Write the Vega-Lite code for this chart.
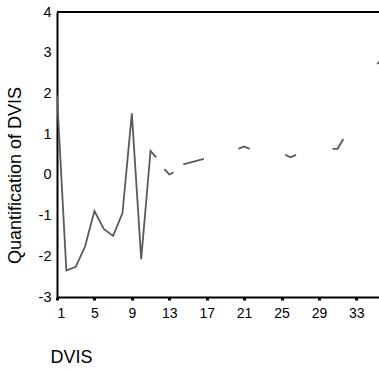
{
  "$schema": "https://vega.github.io/schema/vega-lite/v6.json",
  "width": 322,
  "height": 285,
  "autosize": "none",
  "padding": {"left": 57, "top": 12, "right": 0, "bottom": 76},
  "background": "white",
  "config": {
    "view": {"stroke": null},
    "font": "Liberation Sans",
    "axis": {
      "grid": false,
      "domainColor": "black",
      "domainWidth": 2,
      "labelColor": "black",
      "labelFontSize": 14,
      "titleColor": "black",
      "titleFontSize": 18,
      "titleFontWeight": "normal"
    }
  },
  "data": {
    "values": [
      {"cat": 1, "q": 1.95, "seg": "a"},
      {"cat": 2, "q": -2.35, "seg": "a"},
      {"cat": 3, "q": -2.26, "seg": "a"},
      {"cat": 4, "q": -1.76, "seg": "a"},
      {"cat": 5, "q": -0.89, "seg": "a"},
      {"cat": 6, "q": -1.33, "seg": "a"},
      {"cat": 7, "q": -1.5, "seg": "a"},
      {"cat": 8, "q": -0.94, "seg": "a"},
      {"cat": 9, "q": 1.51, "seg": "a"},
      {"cat": 10, "q": -2.07, "seg": "a"},
      {"cat": 11, "q": 0.59, "seg": "a"},
      {"cat": 11.6, "q": 0.43, "seg": "a"},
      {"cat": 12.48, "q": 0.14, "seg": "b"},
      {"cat": 13, "q": 0.01, "seg": "b"},
      {"cat": 13.45, "q": 0.06, "seg": "b"},
      {"cat": 14.5, "q": 0.26, "seg": "c"},
      {"cat": 16.7, "q": 0.39, "seg": "c"},
      {"cat": 20.4, "q": 0.64, "seg": "d"},
      {"cat": 21, "q": 0.7, "seg": "d"},
      {"cat": 21.6, "q": 0.64, "seg": "d"},
      {"cat": 25.4, "q": 0.49, "seg": "e"},
      {"cat": 26, "q": 0.43, "seg": "e"},
      {"cat": 26.55, "q": 0.49, "seg": "e"},
      {"cat": 30.45, "q": 0.64, "seg": "f"},
      {"cat": 31, "q": 0.64, "seg": "f"},
      {"cat": 31.6, "q": 0.88, "seg": "f"},
      {"cat": 35.25, "q": 2.72, "seg": "g"},
      {"cat": 35.42, "q": 2.78, "seg": "g"}
    ]
  },
  "layer": [
    {
      "mark": {"type": "line", "color": "#5a5a5a", "strokeWidth": 1.8, "clip": true},
      "encoding": {
        "x": {
          "field": "cat",
          "type": "quantitative",
          "scale": {"domain": [1, 35.42], "nice": false, "zero": false},
          "axis": {
            "values": [1, 5, 9, 13, 17, 21, 25, 29, 33],
            "title": "DVIS",
            "titleAnchor": "start",
            "titleAlign": "left",
            "titleBaseline": "middle",
            "titleX": -7,
            "titleY": 60,
            "tickColor": "black",
            "tickSize": 3,
            "tickWidth": 3,
            "labelPadding": 6
          }
        },
        "y": {
          "field": "q",
          "type": "quantitative",
          "scale": {"domain": [-3, 4], "nice": false, "zero": false},
          "axis": {
            "values": [-3, -2, -1, 0, 1, 2, 3, 4],
            "labelExpr": "'' + datum.value",
            "labelFontSize": 14.5,
            "title": "Quantification of DVIS",
            "titleBaseline": "middle",
            "titleX": -42,
            "titleY": 163,
            "ticks": false,
            "labelPadding": 6
          }
        },
        "detail": {"field": "seg"}
      }
    },
    {
      "mark": {"type": "rule", "color": "black", "strokeWidth": 2},
      "encoding": {"y": {"datum": 4}}
    }
  ]
}
